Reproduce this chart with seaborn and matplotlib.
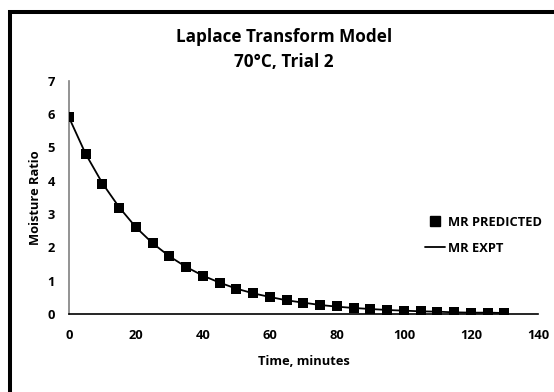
import numpy as np
import pandas as pd
import matplotlib
matplotlib.use("Agg")
import matplotlib.pyplot as plt
from matplotlib.lines import Line2D
from matplotlib.patches import Rectangle
import seaborn as sns

# --- data ---
time_min = [0, 5, 10, 15, 20, 25, 30, 35, 40, 45, 50, 55, 60, 65,
            70, 75, 80, 85, 90, 95, 100, 105, 110, 115, 120, 125, 130]
mr_predicted = [5.9, 4.79, 3.91, 3.19, 2.6, 2.12, 1.73, 1.4, 1.14, 0.93, 0.76, 0.62, 0.5, 0.42,
                0.34, 0.28, 0.23, 0.18, 0.15, 0.12, 0.1, 0.08, 0.07, 0.05, 0.04, 0.04, 0.03]
mr_expt = [5.9, 4.8, 3.92, 3.2, 2.6, 2.12, 1.73, 1.41, 1.15, 0.94, 0.76, 0.62, 0.51, 0.41,
           0.34, 0.27, 0.22, 0.18, 0.15, 0.12, 0.1, 0.08, 0.07, 0.05, 0.04, 0.04, 0.03]

df = pd.DataFrame({"time": time_min, "pred": mr_predicted, "expt": mr_expt})

sns.set_style("white")
plt.rcParams["font.family"] = ["Open Sans", "DejaVu Sans"]
plt.rcParams["font.weight"] = "bold"
plt.rcParams["text.color"] = "black"
plt.rcParams["axes.labelcolor"] = "black"
plt.rcParams["xtick.color"] = "black"
plt.rcParams["ytick.color"] = "black"

FS = 9.3

fig = plt.figure(figsize=(5.54, 3.92), dpi=100)
ax = fig.add_axes([0.1245, 0.199, 0.8466, 0.595])

sns.lineplot(data=df, x="time", y="expt", ax=ax, color="black", linewidth=1.3)
sns.scatterplot(data=df, x="time", y="pred", ax=ax, marker="s", s=58,
                color="black", edgecolor="black", linewidth=0, zorder=3)

ax.set_xlim(0, 140)
ax.set_ylim(0, 7)
ax.set_xticks(range(0, 141, 20))
ax.set_yticks(range(0, 8))
ax.tick_params(length=0, labelsize=FS)
ax.tick_params(axis="x", pad=11)
ax.tick_params(axis="y", pad=10)
for lab in ax.get_xticklabels() + ax.get_yticklabels():
    lab.set_fontweight("bold")

for side in ["top", "right"]:
    ax.spines[side].set_visible(False)
ax.spines["left"].set_color("#808080")
ax.spines["left"].set_linewidth(1.2)
ax.spines["bottom"].set_color("black")
ax.spines["bottom"].set_linewidth(1.2)

ax.set_xlabel("Time, minutes", fontsize=FS, fontweight="bold", labelpad=9)
ax.set_ylabel("Moisture Ratio", fontsize=FS, fontweight="bold", labelpad=4)

fig.text(0.512, 0.905, "Laplace Transform Model", ha="center", va="center",
         fontsize=12.3, fontweight="bold")
fig.text(0.512, 0.842, "70°C, Trial 2", ha="center", va="center",
         fontsize=12.3, fontweight="bold")

handles = [
    Line2D([], [], color="black", marker="s", linestyle="none", markersize=7.2),
    Line2D([], [], color="black", linewidth=1.3),
]
leg = fig.legend(handles, ["MR PREDICTED", "MR EXPT"], loc="upper left",
                 bbox_to_anchor=(425 / 554, 1 - 216 / 392), frameon=False, fontsize=FS,
                 handlelength=1.55, handletextpad=0.2, labelspacing=1.0, borderpad=0,
                 borderaxespad=0)
for t in leg.get_texts():
    t.set_fontweight("bold")

# thick frame around the chart (only top and left visible in the reference)
fig.add_artist(Rectangle((0.0186, -0.2), 1.2, 1.1694, transform=fig.transFigure,
                         fill=False, edgecolor="black", linewidth=2.9))

fig.savefig("out.png", dpi=100)
